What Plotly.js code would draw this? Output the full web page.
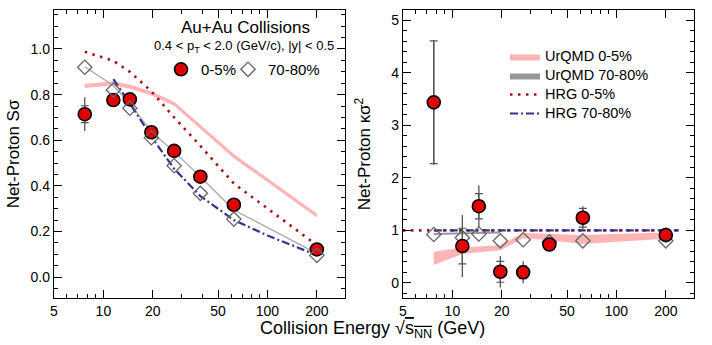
<!DOCTYPE html>
<html>
<head>
<meta charset="utf-8">
<script src="https://cdn.plot.ly/plotly-3.0.1.min.js"></script>
<style>
 body{margin:0;background:#fff;}
 #chart{width:712px;height:345px;}
</style>
</head>
<body>
<div id="chart"></div>
<script>
// beam energies (GeV)
energy=[7.7,11.5,14.5,19.6,27,39,62.4,200];

// S sigma, 0-5% and 70-80%
ss_central=[0.714,0.776,0.779,0.635,0.553,0.44,0.317,0.121];
ss_central_stat=[0.074,0.03,0.022,0.018,0.016,0.014,0.014,0.012];
ss_central_sys=[0.037,0.02,0.015,0.012,0.01,0.01,0.01,0.008];
ss_periph=[0.92,0.82,0.74,0.611,0.488,0.367,0.254,0.095];

// kappa sigma^2, 0-5% and 70-80%
ks_central=[3.44,0.70,1.46,0.21,0.20,0.73,1.24,0.91];
ks_central_stat=[1.19,0.59,0.40,0.30,0.21,0.13,0.22,0.15];
ks_central_sys=[1.17,0.34,0.24,0.20,0.12,0.10,0.18,0.10];
ks_periph=[0.92,0.86,0.93,0.80,0.82,0.78,0.80,0.80];

// models
urqmd_ss_lo=[0.829,0.841,0.826,0.796,0.751,0.651,0.521,0.261];
urqmd_ss_hi=[0.847,0.859,0.844,0.814,0.769,0.669,0.539,0.279];
urqmd_ss_periph=[0.922,0.84,0.76,0.637,0.55,0.44,0.294,0.104];
urqmd_ks_lo=[0.34,0.55,0.58,0.62,0.85,0.81,0.74,0.84];
urqmd_ks_hi=[0.59,0.675,0.69,0.72,0.95,0.93,0.91,0.96];
urqmd_ks_periph_e=[7.7,11.5,14.5,19.6];
urqmd_ks_periph_lo=[0.91,0.92,0.93,0.94];
urqmd_ks_periph_hi=[0.95,0.96,0.97,0.98];
hrg_ss_central=[0.988,0.948,0.90,0.815,0.70,0.575,0.41,0.14];
hrg_ss_periph_e=[11.5,14.5,19.6,27,39,62.4,100,200];
hrg_ss_periph=[0.868,0.762,0.615,0.475,0.355,0.25,0.182,0.096];
hrg_ks_central_e=[5,240];
hrg_ks_central=[1,1];
hrg_ks_periph_e=[7.7,240];
hrg_ks_periph=[1,1];

let band = function(x,lo,hi){
    return {x:x.concat(x.slice().reverse()), y:hi.concat(lo.slice().reverse())};
}
let big = function(s){ return '<span style="font-size:14.5px">'+s+'</span>'; }

pink='rgba(255,120,120,0.55)';
red='#e00000';
hrgRed='#a51515';
hrgBlue='#33338f';
errCol='#555';

bs=band(energy,urqmd_ss_lo,urqmd_ss_hi);
bk=band(energy,urqmd_ks_lo,urqmd_ks_hi);
bg=band(urqmd_ks_periph_e,urqmd_ks_periph_lo,urqmd_ks_periph_hi);

tracks=[
 // left panel
 {x:bs.x,y:bs.y,type:'scatter',mode:'lines',fill:'toself',fillcolor:pink,line:{width:0},showlegend:false,hoverinfo:'none',xaxis:'x',yaxis:'y'},
 {x:energy,y:urqmd_ss_periph,type:'scatter',mode:'lines',line:{color:'#a8a8a8',width:1.3},showlegend:false,xaxis:'x',yaxis:'y'},
 {x:energy,y:hrg_ss_central,type:'scatter',mode:'lines',line:{color:hrgRed,width:2.6,dash:'2.5px,5.5px'},showlegend:false,xaxis:'x',yaxis:'y'},
 {x:hrg_ss_periph_e,y:hrg_ss_periph,type:'scatter',mode:'lines',line:{color:hrgBlue,width:2.2,dash:'8px,3px,2px,3px'},showlegend:false,xaxis:'x',yaxis:'y'},
 {x:energy,y:ss_central,type:'scatter',mode:'markers',marker:{size:1,color:'rgba(0,0,0,0)'},
  error_y:{type:'data',array:ss_central_sys,color:errCol,thickness:1.2,width:4},showlegend:false,xaxis:'x',yaxis:'y'},
 {x:energy,y:ss_central,type:'scatter',mode:'markers',name:'0-5%',legend:'legend2',
  marker:{symbol:'circle',size:13,color:red,line:{color:'#000',width:1.6}},
  error_y:{type:'data',array:ss_central_stat,color:errCol,thickness:1.3,width:0},xaxis:'x',yaxis:'y'},
 {x:energy,y:ss_periph,type:'scatter',mode:'markers',name:'70-80%',legend:'legend3',
  marker:{symbol:'diamond-open',size:11,color:'#666',line:{width:1.3}},xaxis:'x',yaxis:'y'},

 // right panel
 {x:bk.x,y:bk.y,type:'scatter',mode:'lines',fill:'toself',fillcolor:pink,line:{width:0},name:big('UrQMD 0-5%'),hoverinfo:'none',xaxis:'x2',yaxis:'y2'},
 {x:bg.x,y:bg.y,type:'scatter',mode:'lines',fill:'toself',fillcolor:'#8c8c8c',line:{width:0},name:big('UrQMD 70-80%'),hoverinfo:'none',xaxis:'x2',yaxis:'y2',opacity:0.9},
 {x:hrg_ks_central_e,y:hrg_ks_central,type:'scatter',mode:'lines',name:big('HRG 0-5%'),line:{color:hrgRed,width:2.6,dash:'2.5px,5.5px'},xaxis:'x2',yaxis:'y2'},
 {x:hrg_ks_periph_e,y:hrg_ks_periph,type:'scatter',mode:'lines',name:big('HRG 70-80%'),line:{color:hrgBlue,width:2.2,dash:'8px,3px,2px,3px'},xaxis:'x2',yaxis:'y2'},
 {x:energy,y:ks_periph,type:'scatter',mode:'markers',showlegend:false,
  marker:{symbol:'diamond-open',size:11,color:'#666',line:{width:1.3}},xaxis:'x2',yaxis:'y2'},
 {x:energy,y:ks_central,type:'scatter',mode:'markers',marker:{size:1,color:'rgba(0,0,0,0)'},
  error_y:{type:'data',array:ks_central_sys,color:errCol,thickness:1.2,width:4},showlegend:false,xaxis:'x2',yaxis:'y2'},
 {x:energy,y:ks_central,type:'scatter',mode:'markers',showlegend:false,
  marker:{symbol:'circle',size:13,color:red,line:{color:'#000',width:1.6}},
  error_y:{type:'data',array:ks_central_stat,color:errCol,thickness:1.3,width:0},xaxis:'x2',yaxis:'y2'}
];

xTicks=[5,10,20,50,100,200];
xMinor=[6,7,8,9,30,40,60,70,80,90];
fnt='Liberation Sans, Arial, sans-serif';

let xax = function(dom){
    return {type:'log',domain:dom,range:[Math.log10(5),Math.log10(297)],
        tickmode:'array',tickvals:xTicks,ticktext:xTicks.map(String),
        ticks:'inside',ticklen:8,tickwidth:1,tickcolor:'#000',
        minor:{tickmode:'array',tickvals:xMinor,ticks:'inside',ticklen:4,tickcolor:'#000'},
        showline:true,linecolor:'#000',linewidth:1.2,mirror:'allticks',
        showgrid:false,zeroline:false,tickfont:{size:14,color:'#000'},automargin:false};
}
let py = function(px){ return 1-(px-10)/288; }

layout={
 width:712,height:345,
 font:{family:fnt,color:'#000'},
 paper_bgcolor:'#fff',plot_bgcolor:'#fff',
 margin:{l:0,r:0,t:10,b:47},
 xaxis:xax([54/712,345/712]),
 xaxis2:xax([403/712,694/712]),
 yaxis:{domain:[0,1],anchor:'x',range:[-0.092,1.171],tickmode:'linear',tick0:0,dtick:0.2,tickformat:'.1f',
   ticks:'inside',ticklen:8,tickcolor:'#000',minor:{dtick:0.05,ticks:'inside',ticklen:4,tickcolor:'#000'},
   showline:true,linecolor:'#000',linewidth:1.2,mirror:'allticks',showgrid:false,zeroline:false,
   tickfont:{size:14,color:'#000'},automargin:false,
   title:{text:'Net-Proton S\u03c3',font:{size:17},standoff:6}},
 yaxis2:{domain:[0,1],anchor:'x2',range:[-0.29,5.2],tickmode:'linear',tick0:0,dtick:1,
   ticks:'inside',ticklen:8,tickcolor:'#000',minor:{dtick:0.2,ticks:'inside',ticklen:4,tickcolor:'#000'},
   showline:true,linecolor:'#000',linewidth:1.2,mirror:'allticks',showgrid:false,zeroline:false,
   tickfont:{size:14,color:'#000'},automargin:false,
   title:{text:'Net-Proton \u03ba\u03c3<sup>2</sup>',font:{size:17},standoff:16}},
 legend:{x:505/712,y:py(42),xanchor:'left',yanchor:'top',bgcolor:'rgba(0,0,0,0)',font:{size:12},tracegroupgap:0},
 legend2:{x:161/712,y:0.8505,xanchor:'left',yanchor:'top',bgcolor:'rgba(0,0,0,0)',font:{size:15}},
 legend3:{x:228/712,y:0.8505,xanchor:'left',yanchor:'top',bgcolor:'rgba(0,0,0,0)',font:{size:15}},
 annotations:[
  {text:'Au+Au Collisions',xref:'paper',yref:'paper',x:245/712,y:py(27),xanchor:'center',yanchor:'middle',showarrow:false,font:{size:17}},
  {text:'0.4 < p<sub>T</sub> < 2.0 (GeV/c), |y| < 0.5',xref:'paper',yref:'paper',x:244/712,y:py(46),xanchor:'center',yanchor:'middle',showarrow:false,font:{size:13}},
  {text:'Collision Energy \u221a<span style="text-decoration:overline">s<sub>NN</sub></span> (GeV)',xref:'paper',yref:'paper',
   x:372/712,y:py(329),xanchor:'center',yanchor:'middle',showarrow:false,font:{size:18}}
 ],
 showlegend:true
};

Plotly.newPlot('chart',tracks,layout,{displayModeBar:false,staticPlot:true});
</script>
</body>
</html>
